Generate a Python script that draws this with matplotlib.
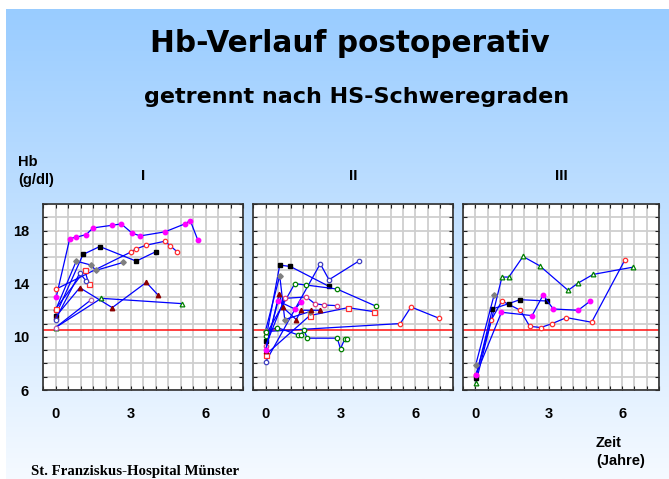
import matplotlib
matplotlib.use("Agg")
import matplotlib.pyplot as plt
import numpy as np

plt.rcParams['font.family'] = ['Liberation Sans', 'DejaVu Sans']

# ---- data: (years, Hb g/dl) per patient, per severity grade ----
# grade I
g1_mag_t = [0.03, 0.57, 0.83, 1.23, 1.5, 2.27, 2.63, 3.07, 3.39, 4.37, 5.17, 5.39, 5.69]
g1_mag_hb = [13.0, 17.4, 17.5, 17.7, 18.2, 18.4, 18.5, 17.8, 17.6, 17.9, 18.5, 18.75, 17.3]
g1_blk_t = [0.0, 1.1, 1.77, 3.23, 4.0]
g1_blk_hb = [11.6, 16.2, 16.8, 15.7, 16.4]
g1_red_t = [0.03, 3.03, 3.2, 3.63, 4.38, 4.59, 4.87]
g1_red_hb = [13.6, 16.4, 16.6, 16.9, 17.2, 16.85, 16.4]
g1_gry_t = [0.0, 0.83, 1.43, 1.61, 2.7]
g1_gry_hb = [12.0, 15.7, 15.4, 15.0, 15.6]
g1_dred_t = [0.0, 0.97, 2.27, 3.63, 4.1]
g1_dred_hb = [11.5, 13.7, 12.2, 14.1, 13.15]
g1_grn_t = [0.0, 1.83, 5.07]
g1_grn_hb = [10.7, 12.9, 12.5]
g1_rsq_t = [0.0, 1.17, 1.34]
g1_rsq_hb = [12.1, 15.0, 13.95]
g1_blu_t = [0.0, 0.97, 1.23]
g1_blu_hb = [11.3, 14.8, 14.2]
g1_pur_t = [0.0, 1.43]
g1_pur_hb = [10.7, 12.8]

# grade II
g2_blk_t = [0.0, 0.57, 0.99, 2.54]
g2_blk_hb = [9.7, 15.4, 15.3, 13.8]
g2_blu_t = [0.0, 2.19, 2.54, 3.73]
g2_blu_hb = [8.1, 15.5, 14.3, 15.7]
g2_grn_t = [0.0, 1.17, 1.63, 2.86, 4.43]
g2_grn_hb = [10.1, 14.0, 13.9, 13.6, 12.3]
g2_red_t = [0.0, 1.77, 3.3, 4.33]
g2_red_hb = [8.65, 11.6, 12.2, 11.9]
g2_red2_t = [0.0, 5.39, 5.82, 6.94]
g2_red2_hb = [10.4, 11.0, 12.25, 11.4]
g2_pnk_t = [0.0, 0.77, 1.63, 1.97, 2.33, 2.86]
g2_pnk_hb = [9.3, 12.9, 13.0, 12.5, 12.4, 12.35]
g2_gry_t = [0.0, 0.57, 0.77, 1.77]
g2_gry_hb = [10.45, 14.6, 11.3, 11.9]
g2_gtr_t = [0.0, 0.47, 1.3, 1.43, 1.53, 1.67, 2.87, 3.0, 3.17, 3.27]
g2_gtr_hb = [10.4, 10.7, 10.15, 10.15, 10.55, 9.9, 9.9, 9.1, 9.85, 9.85]
g2_dred_t = [0.0, 0.55, 0.68, 1.23, 1.43, 1.83, 2.17]
g2_dred_hb = [8.9, 13.25, 12.25, 11.3, 12.0, 12.0, 12.0]
g2_mag_t = [0.0, 0.5, 1.17, 1.43]
g2_mag_hb = [9.0, 12.7, 12.1, 12.6]

# grade III
g3_grn_t = [0.02, 1.09, 1.37, 1.95, 2.63, 3.79, 4.2, 4.81, 6.45]
g3_grn_hb = [6.5, 14.5, 14.5, 16.05, 15.35, 13.5, 14.05, 14.7, 15.25]
g3_red_t = [0.02, 0.66, 1.09, 1.84, 2.22, 2.67, 3.14, 3.72, 4.75, 6.11]
g3_red_hb = [7.1, 11.3, 12.7, 12.0, 10.8, 10.7, 11.0, 11.45, 11.1, 15.8]
g3_blk_t = [0.02, 0.7, 1.37, 1.82, 2.91]
g3_blk_hb = [6.9, 12.1, 12.5, 12.8, 12.7]
g3_mag_t = [0.02, 1.07, 2.32, 2.77, 3.18, 4.2, 4.7]
g3_mag_hb = [7.1, 11.85, 11.6, 13.15, 12.1, 12.0, 12.7]
g3_gry_t = [0.02, 0.77]
g3_gry_hb = [7.9, 13.15]

grade_labels = ['I', 'II', 'III']
x_ticks = [0, 3, 6]
y_ticks = [6, 10, 14, 18]
limit_hb = 10.5

styles = {
    'mag': dict(marker='o', mfc='#ff00ff', mec='#ff00ff', ms=3.2),
    'blk': dict(marker='s', mfc='black', mec='black', ms=3.2),
    'red': dict(marker='o', mfc='white', mec='#ff3030', ms=3.2, mew=0.9),
    'red2': dict(marker='o', mfc='white', mec='#ff3030', ms=3.2, mew=0.9),
    'gry': dict(marker='D', mfc='#808080', mec='#808080', ms=2.8),
    'dred': dict(marker='^', mfc='#8b0000', mec='#8b0000', ms=3.2),
    'grn': dict(marker='^', mfc='white', mec='#008000', ms=3.4, mew=0.9),
    'gtr': dict(marker='o', mfc='white', mec='#008000', ms=3.2, mew=0.9),
    'rsq': dict(marker='s', mfc='white', mec='#ff3030', ms=3.6, mew=0.9),
    'blu': dict(marker='o', mfc='white', mec='#4040c0', ms=3.2, mew=0.9),
    'pur': dict(marker='o', mfc='white', mec='#b060b0', ms=3.2, mew=0.9),
    'pnk': dict(marker='o', mfc='white', mec='#e04080', ms=3.2, mew=0.9),
}

panels = [
    [('mag', g1_mag_t, g1_mag_hb), ('blk', g1_blk_t, g1_blk_hb), ('red', g1_red_t, g1_red_hb),
     ('gry', g1_gry_t, g1_gry_hb), ('dred', g1_dred_t, g1_dred_hb), ('grn', g1_grn_t, g1_grn_hb),
     ('rsq', g1_rsq_t, g1_rsq_hb), ('blu', g1_blu_t, g1_blu_hb), ('pur', g1_pur_t, g1_pur_hb)],
    [('blk', g2_blk_t, g2_blk_hb), ('blu', g2_blu_t, g2_blu_hb), ('gtr', g2_grn_t, g2_grn_hb),
     ('rsq', g2_red_t, g2_red_hb), ('red2', g2_red2_t, g2_red2_hb), ('pnk', g2_pnk_t, g2_pnk_hb),
     ('gry', g2_gry_t, g2_gry_hb), ('gtr', g2_gtr_t, g2_gtr_hb), ('dred', g2_dred_t, g2_dred_hb),
     ('mag', g2_mag_t, g2_mag_hb)],
    [('grn', g3_grn_t, g3_grn_hb), ('red', g3_red_t, g3_red_hb), ('blk', g3_blk_t, g3_blk_hb),
     ('mag', g3_mag_t, g3_mag_hb), ('gry', g3_gry_t, g3_gry_hb)],
]

fig = plt.figure(figsize=(6.69, 4.79), dpi=100)

# background gradient
bg = fig.add_axes([0.009, 0, 0.991, 0.981], zorder=-10)
grad = np.linspace(0, 1, 256)[:, None]
top = np.array([153, 204, 255]) / 255.0
bot = np.array([245, 250, 255]) / 255.0
img = top[None, None, :] * (1 - grad[:, :, None]) + bot[None, None, :] * grad[:, :, None]
bg.imshow(img, aspect='auto', extent=[0, 1, 0, 1])
bg.axis('off')

rects = [[43 / 669, 1 - 390 / 479, 200 / 669, 186 / 479],
         [253 / 669, 1 - 390 / 479, 200 / 669, 186 / 479],
         [463 / 669, 1 - 390 / 479, 196 / 669, 186 / 479]]

for i, (rect, series) in enumerate(zip(rects, panels)):
    ax = fig.add_axes(rect)
    ax.set_facecolor('white')
    ax.set_xlim(-0.5, 7.5)
    ax.set_ylim(6, 20)
    ax.set_xticks(x_ticks)
    ax.set_xticks(np.arange(-0.5, 7.51, 0.5), minor=True)
    ax.set_yticks(y_ticks)
    ax.set_yticks(np.arange(6, 20.1, 1), minor=True)
    ax.grid(which='both', color='#cfcfcf', lw=1.3)
    ax.set_axisbelow(True)
    ax.tick_params(which='both', direction='in', top=True, right=True, length=3,
                   color='#202020', width=0.8)
    ax.tick_params(axis='x', labelsize=10.5, pad=12)
    ax.tick_params(axis='y', labelsize=10.5, pad=10)
    for lab in ax.get_xticklabels() + ax.get_yticklabels():
        lab.set_fontweight('bold')
    if i > 0:
        ax.set_yticklabels([])
    for sp in ax.spines.values():
        sp.set_color('#303030')
        sp.set_linewidth(1.2)
    ax.axhline(limit_hb, color='#ff2020', lw=1.2, zorder=2)
    for key, t, hb in series:
        ax.plot(t, hb, color='#0000ff', lw=0.9, zorder=3, **styles[key])
    ax.text(0.5, 1.15, grade_labels[i], transform=ax.transAxes, ha='center', va='center',
            fontsize=11, fontweight='bold')

fig.text(350 / 669, 1 - 43 / 479, 'Hb-Verlauf postoperativ', ha='center', va='center',
         fontsize=21.3, fontweight='bold', family=['DejaVu Sans'])
fig.text(357 / 669, 1 - 97 / 479, 'getrennt nach HS-Schweregraden', ha='center', va='center',
         fontsize=16, fontweight='bold', family=['DejaVu Sans'])
fig.text(18 / 669, 1 - 171 / 479, 'Hb\n(g/dl)', ha='left', va='center', fontsize=10.5,
         fontweight='bold', linespacing=1.3)
fig.text(596 / 669, 1 - 452 / 479, 'Zeit\n(Jahre)', ha='left', va='center', fontsize=10.5,
         fontweight='bold', linespacing=1.3)
fig.text(31 / 669, 1 - 472 / 479, 'St. Franziskus-Hospital Münster', ha='left', va='center',
         fontsize=10.7, fontweight='bold', family=['Liberation Serif'])

fig.savefig('out.png', dpi=100)
